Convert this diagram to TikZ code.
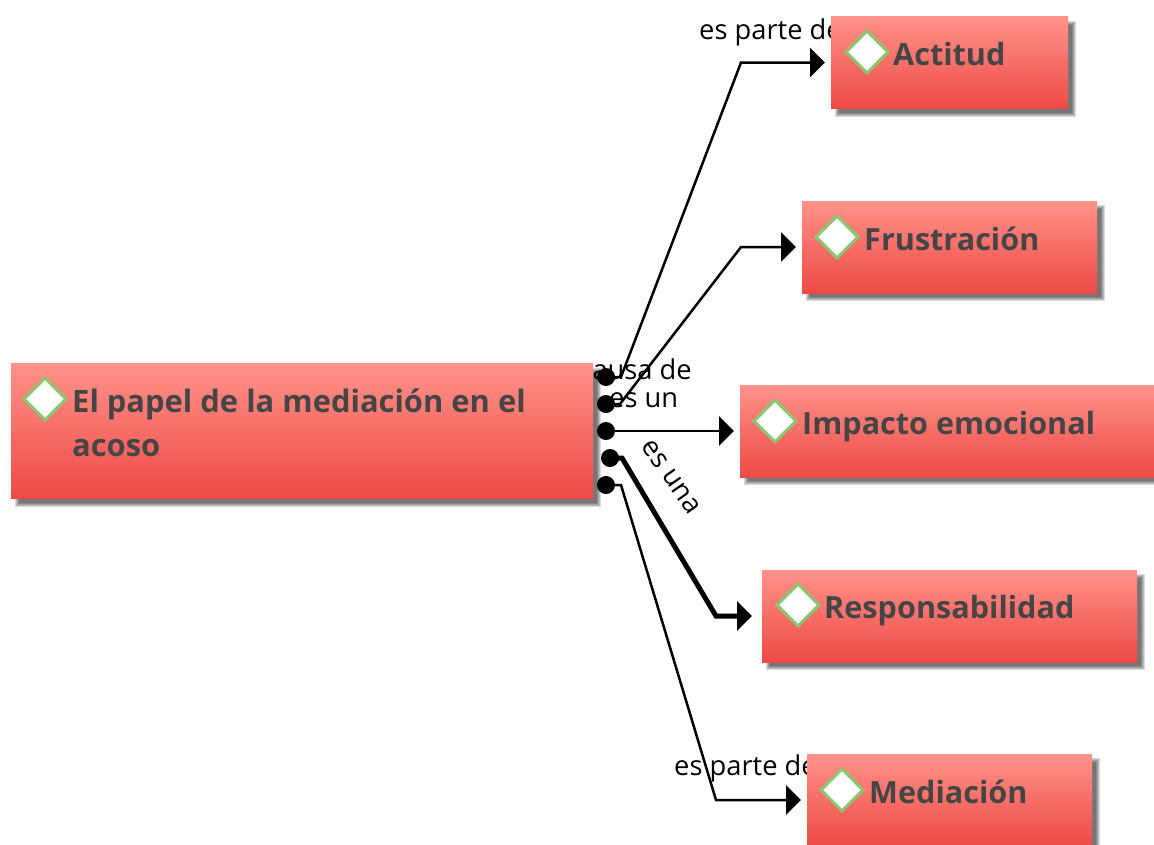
\documentclass[tikz,border=0pt]{standalone}
\usepackage{fontspec}
\setmainfont{Open Sans}
\usetikzlibrary{arrows.meta,shapes.geometric,calc}
\definecolor{boxtop}{HTML}{FF928A}
\definecolor{boxbot}{HTML}{EE4A45}
\definecolor{txt}{HTML}{454545}
\definecolor{grn}{HTML}{8CC56F}
\newcommand{\softshade}[1]{%
  \foreach \e in {2,1,0,-1,-2}{%
    \fill[black,opacity=0.14] ($(#1.north west)+(6-\e,6-\e)$) rectangle ($(#1.south east)+(6+\e,6+\e)$);}%
  \fill[top color=boxtop,bottom color=boxbot] (#1.north west) rectangle (#1.south east);}
\tikzset{
  box/.style={rectangle,inner sep=0pt,outer sep=0pt,draw=none},
  mark box/.style={diamond,aspect=1,draw=grn,line width=3pt,fill=white,inner sep=0pt,outer sep=0pt,minimum size=42pt},
  title/.style={anchor=base west,inner sep=0pt,text=txt,font=\fontsize{30.6}{44}\selectfont\bfseries},
  titlem/.style={anchor=west,inner sep=0pt,text=txt,font=\fontsize{30.9}{44}\selectfont\bfseries,align=left},
  lab/.style={inner sep=0pt,text=black,font=\fontsize{27.3}{30}\selectfont},
  dotn/.style={circle,fill=black,inner sep=0pt,outer sep=0pt,minimum size=18pt},
  conn/.style={draw=black,line width=2.5pt,line join=miter,shorten >=6pt,-{Triangle[length=15pt,width=29pt]}}
}
\begin{document}
\begin{tikzpicture}[x=1pt,y=-1pt]
\useasboundingbox (0,0) rectangle (1154,844);
\fill[white] (0,0) rectangle (1154,844);
\clip (0,0) rectangle (1154,844);
% labels lie beneath the boxes
\node[lab,anchor=base west] (l1) at (699,39) {es parte de};
\node[lab,anchor=base east] (l2) at (692,379) {causa de};
\node[lab,anchor=base west] (l3) at (609,407) {es un};
\node[lab,rotate=-55] (l4) at (671,477) {es una};
\node[lab,anchor=base west] (l5) at (674,775) {es parte de};
% boxes
\node[box,minimum width=582pt,minimum height=135pt] (m) at (302,431) {};
\node[box,minimum width=237pt,minimum height=92pt] (a) at (949.5,62.5) {};
\node[box,minimum width=295pt,minimum height=92pt] (b) at (949.5,247) {};
\node[box,minimum width=414pt,minimum height=92pt] (c) at (947,431) {};
\node[box,minimum width=375pt,minimum height=92pt] (d) at (949.5,616) {};
\node[box,minimum width=285pt,minimum height=92pt] (e) at (949.5,800) {};
\softshade{m}\softshade{a}\softshade{b}\softshade{c}\softshade{d}\softshade{e}
% markers
\node[mark box] (mm) at (45,399) {};
\node[mark box] (ma) at (867,52) {};
\node[mark box] (mb) at (837,237) {};
\node[mark box] (mc) at (775,421) {};
\node[mark box] (md) at (798,605) {};
\node[mark box] (me) at (842,790) {};
% titles
\node[titlem] (tm) at (72,423) {El papel de la mediación en el\\acoso};
\node[title] (ta) at (893,65) {Actitud};
\node[title] (tb) at (864,250) {Frustración};
\node[title] (tc) at (802,434) {Impacto emocional};
\node[title] (td) at (824,618) {Responsabilidad};
\node[title] (te) at (869,803) {Mediación};
% connector ports
\node[dotn] (p1) at (606,377) {};
\node[dotn] (p2) at (606,404) {};
\node[dotn] (p3) at (606,431) {};
\node[dotn] (p4) at (610,458) {};
\node[dotn] (p5) at (606,485) {};
\coordinate (k1) at (621,377);
\coordinate (j1) at (741,62.5);
\coordinate (k2) at (620,404);
\coordinate (j2) at (741,247);
\coordinate (k4) at (622,458);
\coordinate (j4) at (716,616);
\coordinate (k5) at (621,485);
\coordinate (j5) at (716,800);
\draw[conn] (p1.center) -- (k1) -- (j1) -- (a.west);
\draw[conn] (p2.center) -- (k2) -- (j2) -- (b.west);
\draw[conn] (p3.center) -- (c.west);
\draw[conn,line width=5pt,shorten >=10pt] (p4.center) -- (k4) -- (j4) -- (d.west);
\draw[conn] (p5.center) -- (k5) -- (j5) -- (e.west);
\end{tikzpicture}
\end{document}
